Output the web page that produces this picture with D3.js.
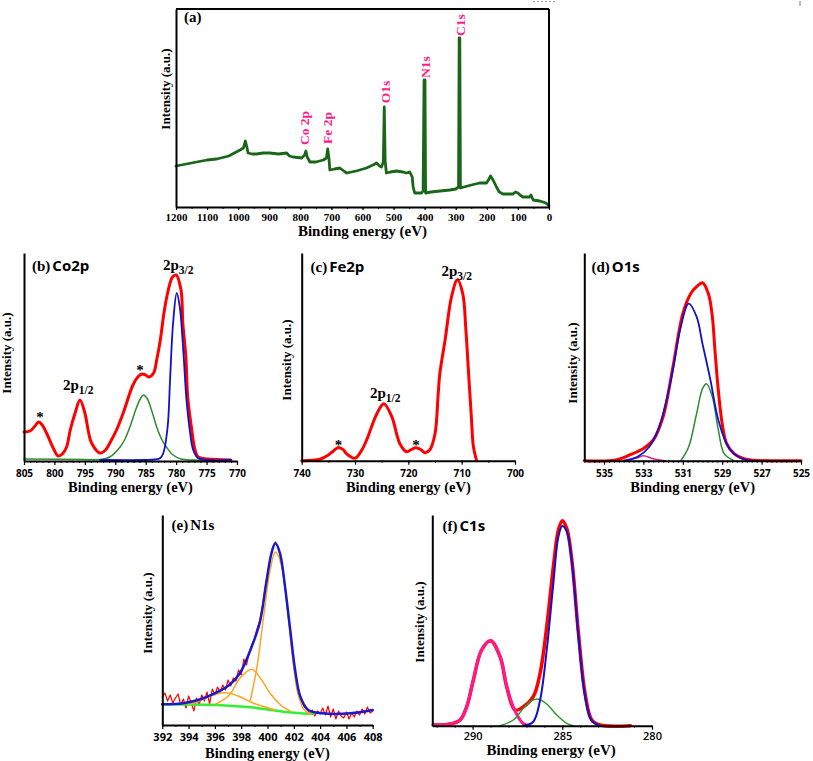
<!DOCTYPE html>
<html><head><meta charset="utf-8">
<script src="https://cdn.jsdelivr.net/npm/d3@7"></script>
<style>body{margin:0;background:#fff}</style>
</head><body>
<svg id="c" width="813" height="761" xmlns="http://www.w3.org/2000/svg"></svg>
<script>
// ---------------- DATA (binding energy eV, intensity a.u.) ----------------
const surveyTicks = [1200,1100,1000,900,800,700,600,500,400,300,200,100,0];
const surveyLabels = ["Co 2p", "Fe 2p", "O1s", "N1s", "C1s"];
const surveyLabelEnergy = [772, 699, 512, 383, 271];
const survey = [[1200,41],[1150,44],[1100,47],[1069,48],[1030,51],[994,57],[983,59],[977,66],[972,60],[968,54],[955,53],[941,53],[920,54],[898,54],[870,53],[844,54],[835,51],[823,50],[796,49],[786,52],[782,56],[778,50],[769,45],[750,45],[726,47],[716,49],[712,58],[708,49],[705,37],[690,38],[673,39],[660,36],[651,34],[620,36],[587,39],[560,43],[555,44],[545,41],[539,40],[533,45],[530,100],[527,45],[523,34],[510,35],[491,36],[470,35],[459,34],[448,35],[440,30],[437,20],[432,14],[420,14],[410,14],[405,16],[402,127],[399,127],[397,14],[380,15],[350,16],[319,17],[300,18],[291,20],[289,169],[287,169],[285,19],[250,22],[223,24],[201,24],[193,28],[188,31],[180,27],[169,20],[160,15],[148,13],[130,13],[116,13],[108,15],[100,14],[93,12],[84,10],[70,10],[62,10],[58,12],[51,7],[30,6],[19,5],[10,4],[3,2],[0,1]];

const co2pTicks = [805,800,795,790,785,780,775,770];
const co2pEnvelope = [[805,29],[804,30],[803.2,35],[802.6,39],[802,36],[801.3,28],[800.2,13],[799.4,5],[798.7,7],[798,14],[797.4,31],[796.6,48],[795.8,61],[795,48],[794.4,29],[793.9,18],[792.5,8],[791.6,11],[790.9,18],[789.8,31],[788.7,48],[787.1,76],[786.3,84],[785.6,87],[785,86],[784.5,84],[783.7,88],[783.2,101],[782.6,121],[782,148],[781.4,168],[780.6,184],[780,186],[779.2,171],[778.9,138],[778.4,104],[778.1,64],[777.5,34],[776.9,11],[776.4,4],[774.8,2],[771,1]];
const co2p32 = [[792.5,1],[785,1],[783.5,1.5],[782.6,3],[782.1,8],[781.4,34],[781,81],[780.5,138],[779.9,168],[779.4,154],[778.8,108],[778.3,61],[777.7,28],[777.2,11],[776.4,3],[774.8,1],[771,1]];
const co2pSat = [[805,2],[795,1.5],[792.5,1.5],[790.9,4],[789.2,14],[788.4,22],[787.6,34],[786.6,52],[785.9,62],[785.4,66],[784.8,63],[784,50],[783.2,34],[782.4,22],[781.6,14],[780.5,6],[779.2,2],[777,1],[771,0.5]];

const fe2pTicks = [740,730,720,710,700];
const fe2pEnvelope = [[740,0],[736.6,1.4],[735,5.7],[734,10],[733.1,13.3],[732.2,11],[731.6,7],[730,2.4],[728.7,11],[727.8,21],[726.9,34],[725.9,47],[724.6,57],[723.1,44],[722.3,29],[721.6,17],[720.3,9],[719.5,11],[718.6,13],[717.6,11],[716.9,8],[716,10.7],[715,27],[714.4,67],[714.1,87],[713.1,121],[711.9,164],[710.8,181],[709.8,167],[709.2,130],[708.7,87],[708.2,45],[707.8,14],[707.2,0]];

const o1sTicks = [535,533,531,529,527,525];
const o1sEnvelope = [[536,0],[534.4,0.7],[533.7,5.7],[533,12.3],[532.5,20.7],[532,44],[531.5,94],[531,147],[530.6,167],[530.3,174],[530,178],[529.7,167],[529.5,144],[529.37,111],[529.2,71],[529,37],[528.77,17],[528.4,7],[527.9,2],[527.4,0.5],[525,0]];
const o1sMain = [[534,0],[533.3,4],[532.7,14],[532.2,34],[531.6,81],[531.1,134],[530.7,157],[530.3,144],[530,117],[529.6,81],[529.2,41],[528.7,14],[528.1,3],[527.4,0]];
const o1sLattice = [[531.1,0],[530.7,14],[530.3,47],[530,72],[529.8,77],[529.5,64],[529.2,31],[528.9,7],[528.4,0]];
const o1sMinor = [[534,0],[533.3,3],[533,5],[532.5,2],[531.9,0]];

const n1sTicks = [392,394,396,398,400,402,404,406,408];
const n1sRaw = [[392,28],[392.2,32],[392.4,24],[392.6,30],[392.8,22],[393,27],[393.2,31],[393.4,20],[393.6,26],[393.8,17],[394,29],[394.2,22],[394.4,14],[394.6,27],[394.8,20],[395,30],[395.2,24],[395.4,33],[395.6,21],[395.8,36],[396,30],[396.2,38],[396.4,33],[396.6,40],[396.8,35],[397,45],[397.2,39],[397.4,47],[397.6,44],[397.8,55],[398,50],[398.2,66],[398.4,60],[398.6,72],[398.8,80],[399,86],[399.2,96],[399.4,104],[399.6,118],[399.8,135],[400,152],[400.2,166],[400.4,178],[400.6,183],[400.8,178],[401,168],[401.2,150],[401.4,130],[401.6,106],[401.8,84],[402,62],[402.2,45],[402.4,32],[402.6,24],[402.8,18],[403,16],[403.2,12],[403.4,15],[403.6,9],[403.8,14],[404,11],[404.2,17],[404.4,10],[404.6,19],[404.8,8],[405,16],[405.2,6],[405.4,14],[405.6,9],[405.8,7],[406,13],[406.2,6],[406.4,12],[406.6,8],[406.8,14],[407,10],[407.2,16],[407.4,11],[407.6,18],[407.8,12],[408,14]];
const n1sFit = [[392,20.7],[393.6,21.7],[394.9,25.7],[396.1,32.3],[397.1,40],[397.9,51.7],[398.7,75],[399.4,101.7],[399.9,141.7],[400.3,171.7],[400.6,181.7],[400.95,171.7],[401.3,141.7],[401.7,98.3],[402.1,55],[402.5,28.3],[403.1,15],[404.2,11.7],[406.3,11.7],[408,15]];
const n1sBackground = [[392,20.7],[396.1,20],[398.7,17.7],[399.9,15.7],[401.2,13.3],[402.5,11.7],[403.5,11]];
const n1sPeak1 = [[398.7,25],[399.2,58],[399.7,108],[400.2,155],[400.6,173],[401.1,158],[401.5,118],[401.9,68],[402.3,32],[402.8,15],[403.3,11]];
const n1sPeak2 = [[396.1,21],[397.1,30],[397.9,46.7],[398.8,55.7],[399.4,48],[400.2,31.7],[401,20],[401.7,14]];
const n1sPeak3 = [[394.1,20.7],[395.1,25.7],[396.1,31],[396.9,32.3],[397.9,28.3],[398.9,22],[399.9,17.7],[400.6,15]];

const c1sTicks = [290,285,280];
const c1sEnvelope = [[292.2,0.7],[291.26,1.7],[290.7,5.7],[290.33,19],[289.96,45.7],[289.5,75.7],[289,85],[288.47,69],[288.1,39],[287.64,15.7],[287.17,19],[286.62,29],[286.24,52.4],[285.87,99],[285.5,159],[285.22,195.7],[285,205],[284.75,197],[284.47,165.7],[284.1,92],[283.73,32],[283.36,5.7],[282.9,0.7],[281.2,0]];
const c1sCC = [[287.17,0],[286.62,4],[286.24,25.7],[285.87,75.7],[285.5,142.4],[285.22,189],[285,199.7],[284.75,194],[284.47,164],[284.1,89],[283.73,29],[283.36,5],[282.9,0]];
const c1sCO = [[288.47,0],[287.73,5.7],[287.17,17.4],[286.71,25],[286.37,26.7],[285.87,21.7],[285.31,10.7],[284.75,2.4],[284.38,0]];
const c1sOCO = [[292.2,0.7],[291.26,1.7],[290.7,5.7],[290.33,19],[289.96,45.7],[289.5,75.7],[289,85],[288.47,69],[288.1,39],[287.92,28],[287.55,11.7],[287.17,2],[286.8,0]];

// ---------------- DRAWING ----------------
const SERIF = "'Liberation Serif','Times New Roman',serif";
const SANS = "'Open Sans','DejaVu Sans',sans-serif";
const svg = d3.select("#c");
const smooth = d3.curveCatmullRom.alpha(0.5);

function panel(cfg) {
  const x = d3.scaleLinear().domain(cfg.domain).range([cfg.x0, cfg.x1]);
  const y = d3.scaleLinear().domain([0, cfg.y1 - cfg.y0]).range([cfg.y1, cfg.y0]);
  const g = svg.append("g");
  const line = (curve) => d3.line().x(d => x(d[0])).y(d => y(d[1])).curve(curve);
  cfg.series.forEach(s => {
    g.append("path").datum(s.data)
      .attr("fill", "none").attr("stroke", s.color).attr("stroke-width", s.width)
      .attr("stroke-linejoin", "round").attr("stroke-linecap", "round")
      .attr("d", line(s.curve || smooth));
  });
  if (cfg.minor) {
    const mg = g.append("g").attr("transform", `translate(0,${cfg.y1})`)
      .call(d3.axisBottom(x).tickValues(cfg.minor).tickSize(cfg.minorSize || 2).tickFormat(""));
    mg.select(".domain").remove();
    mg.selectAll("line").attr("stroke", "#000").attr("stroke-width", 1);
  }
  const ax = g.append("g").attr("transform", `translate(0,${cfg.y1})`)
    .call(d3.axisBottom(x).tickValues(cfg.ticks).tickSize(cfg.tickSize || 4).tickSizeOuter(0).tickFormat(d3.format("d")));
  ax.select(".domain").attr("stroke", "#000").attr("stroke-width", 2);
  ax.selectAll(".tick line").attr("stroke", "#000").attr("stroke-width", 1.2);
  ax.selectAll("text").attr("y", cfg.labelOff).attr("dy", 0)
    .attr("font-family", cfg.tickFont).attr("font-size", cfg.tickSizePx).attr("font-weight", cfg.tickWeight)
    .attr("fill", "#000");
  const ly = g.append("g").attr("transform", `translate(${cfg.x0},0)`)
    .call(d3.axisLeft(y).tickValues([]).tickSizeOuter(0));
  ly.select(".domain").attr("stroke", "#000").attr("stroke-width", 2);
  if (cfg.box) {
    g.append("line").attr("x1", cfg.x0).attr("x2", cfg.x1).attr("y1", cfg.y0).attr("y2", cfg.y0).attr("stroke", "#000").attr("stroke-width", 2);
    g.append("line").attr("x1", cfg.x1).attr("x2", cfg.x1).attr("y1", cfg.y0).attr("y2", cfg.y1).attr("stroke", "#000").attr("stroke-width", 2);
  }
  g.append("text").attr("x", (cfg.x0 + cfg.x1) / 2 + (cfg.xlabShift || 0)).attr("y", cfg.xlabY)
    .attr("text-anchor", "middle").attr("font-family", SERIF).attr("font-weight", "bold")
    .attr("font-size", cfg.xlabSize || 14).text("Binding energy (eV)");
  g.append("text").attr("transform", `translate(${cfg.ylabX},${cfg.ylabY}) rotate(-90)`)
    .attr("text-anchor", "middle").attr("font-family", SERIF).attr("font-weight", "bold")
    .attr("font-size", cfg.ylabSize || 13).text("Intensity (a.u.)");
  if (cfg.title) {
    const t = g.append("text").attr("x", cfg.title.x).attr("y", cfg.title.y).attr("font-weight", "bold");
    t.append("tspan").attr("font-family", SERIF).attr("font-size", 15).text(cfg.title.tag);
    if (cfg.title.name) t.append("tspan").attr("font-family", cfg.title.font).attr("font-size", cfg.title.size || 14).attr("dx", 2).text(cfg.title.name);
  }
  return { x, y, g };
}

function orbital(g, px, py, sub) {
  const t = g.append("text").attr("x", px).attr("y", py).attr("font-family", SERIF).attr("font-weight", "bold").attr("font-size", 15);
  t.append("tspan").text("2p");
  t.append("tspan").attr("font-size", 11.5).attr("dy", 3.5).text(sub);
}
function star(g, px, py) {
  g.append("text").attr("x", px).attr("y", py).attr("text-anchor", "middle").attr("font-family", SERIF)
    .attr("font-weight", "bold").attr("font-size", 15).text("*");
}
const range = (a, b, s) => d3.range(a, b + s / 2, s);

// small cropping marks at the top of the original figure
svg.append("line").attr("x1", 533).attr("x2", 556).attr("y1", 1.5).attr("y2", 1.5)
  .attr("stroke", "#999").attr("stroke-width", 1).attr("stroke-dasharray", "2,2");
svg.append("line").attr("x1", 800).attr("x2", 800).attr("y1", 1).attr("y2", 6)
  .attr("stroke", "#777").attr("stroke-width", 1);

// (a) survey
const pa = panel({
  x0: 176, x1: 549, y0: 9, y1: 207, domain: [1200, 0], box: true,
  ticks: surveyTicks, minor: range(0, 1200, 50), tickSize: 3, labelOff: 14,
  tickFont: SERIF, tickSizePx: 11, tickWeight: "bold",
  xlabY: 236, xlabSize: 15, ylabX: 170, ylabY: 89,
  title: { x: 184, y: 22, tag: "(a)" },
  series: [{ data: survey, color: "#196619", width: 2.8, curve: d3.curveLinear }]
});
const labelY = [128, 128, 92, 67, 25];
surveyLabels.forEach((l, i) => {
  pa.g.append("text").attr("transform", `translate(${pa.x(surveyLabelEnergy[i])},${labelY[i]}) rotate(-90)`)
    .attr("text-anchor", "middle").attr("font-family", SERIF).attr("font-size", 13.5).attr("font-weight", "bold")
    .attr("fill", "#ff1a8c").text(l);
});

// (b) Co2p
const pb = panel({
  x0: 24, x1: 237, y0: 253, y1: 461, domain: [805, 770],
  ticks: co2pTicks, minor: range(770, 805, 1), labelOff: 16,
  tickFont: SANS, tickSizePx: 10, tickWeight: "bold",
  xlabY: 492, xlabSize: 14.5, ylabX: 11, ylabY: 353,
  title: { x: 32, y: 271, tag: "(b)", name: "Co2p", font: SANS, size: 15 },
  series: [
    { data: co2pEnvelope, color: "#ff0000", width: 3 },
    { data: co2pSat, color: "#2e8b2e", width: 1.5 },
    { data: co2p32, color: "#1010d0", width: 1.8 }
  ]
});
orbital(pb.g, 163, 270, "3/2");
orbital(pb.g, 63, 390, "1/2");
star(pb.g, 40, 422);
star(pb.g, 140, 375);

// (c) Fe2p
const pc = panel({
  x0: 301.7, x1: 515, y0: 253, y1: 460.7, domain: [740, 700],
  ticks: fe2pTicks, minor: range(700, 740, 5), labelOff: 16,
  tickFont: SANS, tickSizePx: 10, tickWeight: "bold",
  xlabY: 492, xlabSize: 14.5, ylabX: 291, ylabY: 360,
  title: { x: 310.5, y: 272, tag: "(c)", name: "Fe2p", font: SANS, size: 15 },
  series: [{ data: fe2pEnvelope, color: "#ff0000", width: 3 }]
});
orbital(pc.g, 441.5, 276, "3/2");
orbital(pc.g, 370, 398, "1/2");
star(pc.g, 338.5, 450);
star(pc.g, 416, 450);

// (d) O1s
panel({
  x0: 584.3, x1: 801, y0: 253, y1: 460.7, domain: [536, 525],
  ticks: o1sTicks, minor: range(525, 536, 0.25), labelOff: 16,
  tickFont: SANS, tickSizePx: 10, tickWeight: "bold",
  xlabY: 492, xlabSize: 14.5, ylabX: 577, ylabY: 363,
  title: { x: 591.5, y: 272, tag: "(d)", name: "O1s", font: SANS, size: 15 },
  series: [
    { data: o1sEnvelope, color: "#ff0000", width: 3 },
    { data: o1sMinor, color: "#e0208c", width: 1.5 },
    { data: o1sLattice, color: "#2e8b2e", width: 1.5 },
    { data: o1sMain, color: "#1010d0", width: 1.8 }
  ]
});

// (e) N1s
panel({
  x0: 162.3, x1: 372.7, y0: 515, y1: 725, domain: [392, 408],
  ticks: n1sTicks, minor: range(392, 408, 1), labelOff: 15.5,
  tickFont: SANS, tickSizePx: 11, tickWeight: "bold",
  xlabY: 758, xlabSize: 14.5, ylabX: 152, ylabY: 613,
  title: { x: 171.5, y: 530, tag: "(e)", name: "N1s", font: SERIF, size: 15 },
  series: [
    { data: n1sRaw, color: "#ff0000", width: 1.2, curve: d3.curveLinear },
    { data: n1sBackground, color: "#33ee33", width: 2.5 },
    { data: n1sPeak3, color: "#ffa520", width: 1.5 },
    { data: n1sPeak2, color: "#ffa520", width: 1.5 },
    { data: n1sPeak1, color: "#ffa520", width: 1.5 },
    { data: n1sFit, color: "#1a1acc", width: 2.5 }
  ]
});

// (f) C1s
panel({
  x0: 432.3, x1: 652, y0: 515, y1: 725.7, domain: [292.25, 280],
  ticks: c1sTicks, minor: range(280, 292, 1), labelOff: 14.3,
  tickFont: SANS, tickSizePx: 11, tickWeight: "600",
  xlabY: 755, xlabSize: 15, xlabShift: 9, ylabX: 423.5, ylabY: 622,
  title: { x: 442.5, y: 531, tag: "(f)", name: "C1s", font: SANS, size: 15 },
  series: [
    { data: c1sEnvelope, color: "#ff0000", width: 3.5 },
    { data: c1sOCO, color: "#ff1a8c", width: 3 },
    { data: c1sCO, color: "#2e9b2e", width: 1.5 },
    { data: c1sCC, color: "#1010d0", width: 2 }
  ]
});
</script>
</body></html>
